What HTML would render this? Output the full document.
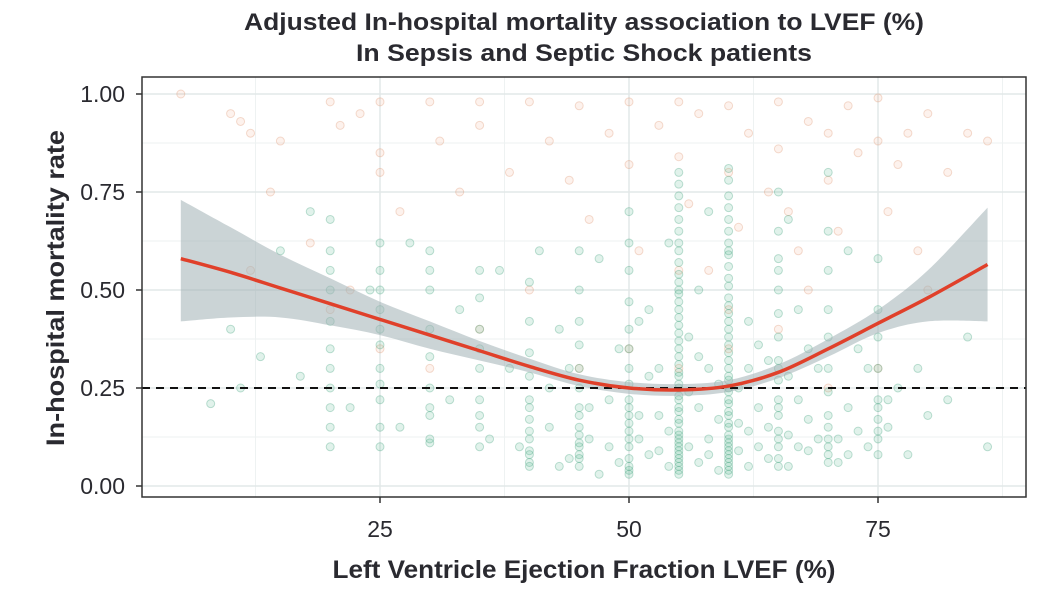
<!DOCTYPE html>
<html><head><meta charset="utf-8">
<style>
html,body{margin:0;padding:0;background:#fff;}
svg{display:block;font-family:"Liberation Sans",Arial,sans-serif;}
</style></head>
<body>
<svg id="chart" width="1064" height="606" viewBox="0 0 1064 606">
<text x="584" y="30" text-anchor="middle" font-size="24" font-weight="bold" fill="#2a2a30" textLength="680" lengthAdjust="spacingAndGlyphs">Adjusted In-hospital mortality association to LVEF (%)</text>
<text x="584" y="61" text-anchor="middle" font-size="24" font-weight="bold" fill="#2a2a30" textLength="456" lengthAdjust="spacingAndGlyphs">In Sepsis and Septic Shock patients</text>
<g id="grid"></g>
<g id="pts"></g>
<g id="fit"></g>
<rect x="142" y="77" width="884" height="420" fill="none" stroke="#333" stroke-width="1.5"/>
<g id="axes"></g>
<text x="584" y="578" text-anchor="middle" font-size="25" font-weight="bold" fill="#2a2a30" textLength="503" lengthAdjust="spacingAndGlyphs">Left Ventricle Ejection Fraction LVEF (%)</text>
<text transform="translate(64,288) rotate(-90)" text-anchor="middle" font-size="25" font-weight="bold" fill="#2a2a30" textLength="316" lengthAdjust="spacingAndGlyphs">In-hospital mortality rate</text>
</svg>
<script>
const xTicks=[25,50,75];
const yTicks=[0,0.25,0.5,0.75,1];
const yTickLabels=["0.00","0.25","0.50","0.75","1.00"];
const fitX=[5,10,15,20,25,30,35,40,45,50,55,60,65,70,75,80,86];
const fitY=[0.58,0.545,0.505,0.465,0.425,0.385,0.345,0.305,0.27,0.25,0.245,0.255,0.29,0.35,0.415,0.48,0.565];
const fitLo=[0.42,0.43,0.43,0.41,0.385,0.35,0.32,0.29,0.255,0.235,0.23,0.24,0.275,0.33,0.39,0.42,0.42];
const fitHi=[0.73,0.66,0.59,0.53,0.47,0.42,0.37,0.325,0.285,0.265,0.26,0.27,0.31,0.375,0.45,0.55,0.71];
const refLine=0.25;
const colX=[20,25,30,35,40,45,50,55,60,65,70,75];
const colGreen=[
 [0.68,0.6,0.5,0.42,0.35,0.3,0.2,0.15,0.1,0.55,0.25],
 [0.62,0.55,0.45,0.36,0.3,0.22,0.15,0.1,0.5,0.4,0.26],
 [0.6,0.5,0.4,0.33,0.25,0.18,0.12,0.11,0.55,0.2],
 [0.55,0.48,0.4,0.3,0.22,0.15,0.1,0.35,0.18],
 [0.52,0.42,0.34,0.28,0.22,0.17,0.12,0.09,0.06,0.05,0.14,0.08],
 [0.6,0.5,0.42,0.36,0.3,0.25,0.2,0.15,0.11,0.08,0.05,0.13,0.18,0.07],
 [0.7,0.62,0.55,0.47,0.4,0.35,0.3,0.26,0.22,0.18,0.14,0.1,0.07,0.05,0.12,0.16,0.2,0.03],
 [0.8,0.74,0.68,0.62,0.57,0.52,0.47,0.43,0.39,0.35,0.31,0.28,0.25,0.22,0.19,0.16,0.13,0.11,0.09,0.07,0.05,0.04,0.03,0.77,0.71,0.65,0.6,0.54,0.49,0.45,0.41,0.37,0.33,0.29,0.26,0.23,0.2,0.17,0.14,0.12,0.1,0.08,0.06],
 [0.81,0.74,0.68,0.62,0.56,0.51,0.46,0.42,0.38,0.34,0.3,0.27,0.24,0.21,0.18,0.15,0.12,0.1,0.08,0.06,0.04,0.03,0.78,0.71,0.65,0.59,0.53,0.48,0.44,0.4,0.36,0.32,0.28,0.25,0.22,0.19,0.16,0.13,0.11,0.09,0.07,0.05],
 [0.75,0.65,0.58,0.5,0.44,0.38,0.32,0.27,0.22,0.18,0.14,0.1,0.07,0.05,0.12,0.2,0.3],
 [0.8,0.65,0.55,0.45,0.38,0.3,0.24,0.18,0.12,0.08,0.15,0.1],
 [0.58,0.45,0.38,0.3,0.22,0.17,0.12,0.08,0.14,0.2]
];
const greenScatter=[[8,0.21],[10,0.4],[11,0.25],[13,0.33],[15,0.6],[17,0.28],[18,0.7],[22,0.2],[24,0.5],[27,0.15],[28,0.62],[32,0.22],[33,0.45],[36,0.12],[37,0.55],[38,0.3],[41,0.6],[42,0.15],[43,0.4],[44,0.07],[46,0.2],[47,0.58],[48,0.1],[49,0.35],[51,0.12],[52,0.45],[52,0.08],[53,0.18],[53,0.3],[54,0.05],[54,0.62],[56,0.1],[56,0.38],[57,0.06],[57,0.2],[57,0.5],[58,0.12],[58,0.3],[59,0.04],[59,0.17],[61,0.09],[61,0.25],[62,0.05],[62,0.14],[62,0.42],[63,0.1],[63,0.2],[64,0.07],[64,0.32],[66,0.13],[66,0.05],[67,0.22],[67,0.45],[68,0.09],[68,0.17],[69,0.3],[71,0.12],[71,0.06],[72,0.2],[73,0.35],[74,0.1],[76,0.15],[77,0.25],[78,0.08],[79,0.3],[80,0.18],[82,0.22],[84,0.38],[86,0.1],[45,0.1],[47,0.03],[50,0.04],[55,0.5],[58,0.7],[60,0.6],[65,0.55],[66,0.68],[72,0.6],[42,0.25],[44,0.3],[46,0.12],[48,0.22],[51,0.18],[52,0.28],[53,0.09],[54,0.14],[56,0.24],[57,0.33],[58,0.08],[59,0.26],[61,0.16],[62,0.3],[63,0.36],[64,0.15],[66,0.28],[67,0.1],[68,0.35],[69,0.12],[70,0.06],[72,0.08],[73,0.14],[74,0.3],[76,0.22],[39,0.1],[40,0.2],[43,0.05],[49,0.06],[51,0.42]];
const orangeScatter=[[5,1.0],[10,0.95],[11,0.93],[12,0.9],[14,0.75],[15,0.88],[20,0.98],[21,0.92],[23,0.95],[25,0.98],[25,0.85],[25,0.8],[27,0.7],[30,0.98],[31,0.88],[33,0.75],[35,0.98],[35,0.92],[38,0.8],[40,0.98],[42,0.88],[44,0.78],[45,0.97],[46,0.68],[48,0.9],[50,0.98],[50,0.82],[51,0.6],[53,0.92],[55,0.98],[55,0.84],[56,0.72],[57,0.95],[58,0.55],[60,0.97],[60,0.8],[61,0.66],[62,0.9],[64,0.75],[65,0.98],[65,0.86],[66,0.7],[67,0.6],[68,0.93],[70,0.9],[70,0.78],[71,0.65],[72,0.97],[73,0.85],[75,0.99],[75,0.88],[76,0.7],[77,0.82],[78,0.9],[79,0.6],[80,0.95],[82,0.8],[84,0.9],[86,0.88],[20,0.45],[25,0.35],[30,0.3],[35,0.4],[45,0.3],[50,0.35],[55,0.3],[60,0.35],[65,0.4],[70,0.25],[75,0.3],[12,0.55],[18,0.62],[22,0.5],[40,0.5],[55,0.55],[60,0.45],[68,0.5],[80,0.5]];

const X0=142,X1=1026,Y0=77,Y1=497;
const sx=v=>131+v*9.96;
const sy=v=>486-v*392;
const NS="http://www.w3.org/2000/svg";
function mk(tag,attrs,parent){const e=document.createElementNS(NS,tag);for(const k in attrs)e.setAttribute(k,attrs[k]);parent.appendChild(e);return e;}
function smooth(P){let d='M'+P[0][0]+','+P[0][1];for(let i=0;i<P.length-1;i++){const p0=P[Math.max(0,i-1)],p1=P[i],p2=P[i+1],p3=P[Math.min(P.length-1,i+2)];
 d+=' C'+(p1[0]+(p2[0]-p0[0])/6)+','+(p1[1]+(p2[1]-p0[1])/6)+' '+(p2[0]-(p3[0]-p1[0])/6)+','+(p2[1]-(p3[1]-p1[1])/6)+' '+p2[0]+','+p2[1];}return d;}
const grid=document.getElementById('grid');
[12.5,37.5,62.5,87.5].forEach(v=>{const l=mk('line',{x1:sx(v),x2:sx(v),y1:Y0,y2:Y1,stroke:'#eef2f2','stroke-width':1},grid);

});
[0.125,0.375,0.625,0.875].forEach(v=>{const l=mk('line',{x1:X0,x2:X1,y1:sy(v),y2:sy(v),stroke:'#eef2f2','stroke-width':1},grid);

});
xTicks.forEach(v=>{const l=mk('line',{x1:sx(v),x2:sx(v),y1:Y0,y2:Y1,stroke:'#e2e8e8','stroke-width':1.5},grid);

});
yTicks.forEach(v=>{const l=mk('line',{x1:X0,x2:X1,y1:sy(v),y2:sy(v),stroke:'#e2e8e8','stroke-width':1.5},grid);

});

const pts=document.getElementById('pts');
function dot(x,y,g){
 const c=mk('circle',{cx:sx(x),cy:sy(y),r:4,fill:g?'rgba(235,150,110,0.12)':'rgba(70,175,130,0.16)',stroke:g?'rgba(220,140,100,0.3)':'rgba(60,160,120,0.32)','stroke-width':1},pts);
 
 
}
orangeScatter.forEach(p=>dot(p[0],p[1],1));
greenScatter.forEach(p=>dot(p[0],p[1],0));
colX.forEach((x,i)=>colGreen[i].forEach(y=>dot(x,y,0)));

const fit=document.getElementById('fit');
const hiP=fitX.map((x,i)=>[sx(x),sy(fitHi[i])]);
const loP=fitX.map((x,i)=>[sx(x),sy(fitLo[i])]).reverse();
let band=smooth(hiP)+' L'+smooth(loP).slice(1)+' Z';
const b=mk('path',{d:band,fill:'rgba(160,176,180,0.55)',stroke:'none'},fit);


const rl=mk('line',{x1:X0,x2:X1,y1:sy(refLine),y2:sy(refLine),stroke:'#111','stroke-width':2,'stroke-dasharray':'8,6'},fit);


const ln=mk('path',{d:smooth(fitX.map((x,i)=>[sx(x),sy(fitY[i])])),fill:'none',stroke:'#e0402a','stroke-width':3.5,'stroke-linejoin':'round'},fit);



const axes=document.getElementById('axes');
xTicks.forEach(v=>{
 const t=mk('line',{x1:sx(v),x2:sx(v),y1:Y1,y2:Y1+6,stroke:'#333','stroke-width':1.5},axes);
 
 
 const l=mk('text',{x:sx(v),y:537,'text-anchor':'middle','font-size':23,fill:'#2a2a30'},axes);
 l.textContent=v;
 
 
});
yTicks.forEach((v,i)=>{
 const t=mk('line',{x1:X0-6,x2:X0,y1:sy(v),y2:sy(v),stroke:'#333','stroke-width':1.5},axes);
 
 
 const l=mk('text',{x:X0-17,y:sy(v)+8,'text-anchor':'end','font-size':23,fill:'#2a2a30'},axes);
 l.textContent=yTickLabels[i];
 
 
});
</script>
</body></html>
